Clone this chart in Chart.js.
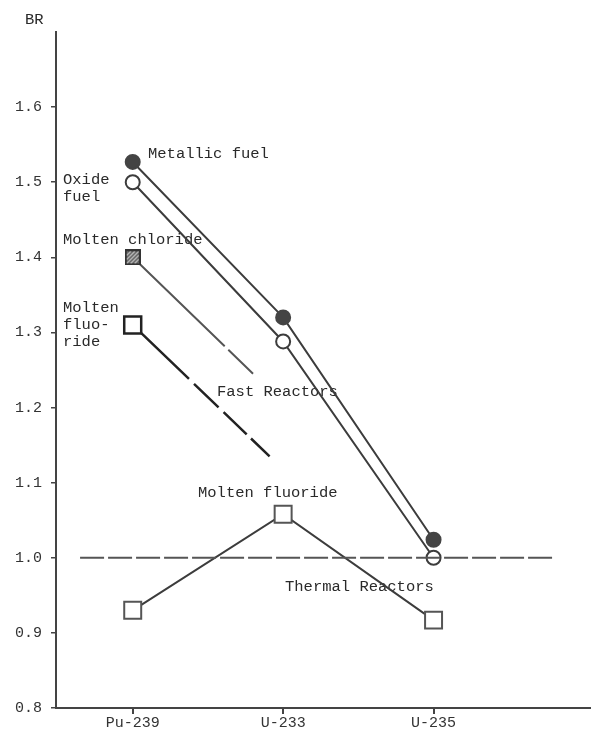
<!DOCTYPE html>
<html>
<head>
<meta charset="utf-8">
<script src="https://cdn.jsdelivr.net/npm/chart.js@4"></script>
<style>
  html, body { margin: 0; padding: 0; background: #fff; }
  #wrap { width: 592px; height: 732px; }
</style>
</head>
<body>
<div id="wrap"><canvas id="brChart" width="592" height="732"></canvas></div>
<script>
// --- Data ---
const categories = ['Pu-239', 'U-233', 'U-235'];
const yTicks = [0.8, 0.9, 1.0, 1.1, 1.2, 1.3, 1.4, 1.5, 1.6];
const metallicFuel = [1.527, 1.320, 1.024];
const oxideFuel = [1.500, 1.288, 1.000];
const thermalFluoride = [0.930, 1.058, 0.917];
// fast molten salt lines start at Pu-239 and trail off as dashes (x, y)
const moltenChloride = [[1, 1.400], [1.80, 1.245]];
const fastFluoride = [[1, 1.310], [1.91, 1.135]];
const breakEven = [[0.65, 1.0], [3.79, 1.0]];

const ink = '#3c3c3c';
const FONT = '"Liberation Mono", "DejaVu Sans Mono", monospace';

function toPoints(values) {
    return values.map((v, i) => ({ x: i + 1, y: v }));
}
function toXY(pairs) {
    return pairs.map(p => ({ x: p[0], y: p[1] }));
}

// hatched square marker for molten chloride
function hatchedSquare(size) {
    const c = document.createElement('canvas');
    c.width = size; c.height = size;
    const g = c.getContext('2d');
    g.fillStyle = '#555';
    g.fillRect(0, 0, size, size);
    g.strokeStyle = '#ddd';
    g.lineWidth = 1.2;
    for (let k = -size; k < size * 2; k += 4) {
        g.beginPath();
        g.moveTo(k, size);
        g.lineTo(k + size, 0);
        g.stroke();
    }
    g.strokeStyle = '#333';
    g.lineWidth = 2;
    g.strokeRect(1, 1, size - 2, size - 2);
    return c;
}

// --- Annotation text ---
const notes = [
    ['BR', 25, 20],
    ['Metallic fuel', 148, 154],
    ['Oxide', 63, 180],
    ['fuel', 63, 197],
    ['Molten chloride', 63, 240],
    ['Molten', 63, 308],
    ['fluo-', 63, 325],
    ['ride', 63, 342],
    ['Fast Reactors', 217, 392],
    ['Molten fluoride', 198, 493],
    ['Thermal Reactors', 285, 587]
];

const notePlugin = {
    id: 'notes',
    beforeDatasetsDraw(chart) {
        const ctx = chart.ctx;
        ctx.save();
        ctx.font = '15.5px ' + FONT;
        ctx.fillStyle = '#2a2a2a';
        ctx.textAlign = 'left';
        ctx.textBaseline = 'middle';
        notes.forEach(n => ctx.fillText(n[0], n[1], n[2]));
        ctx.restore();
    }
};

const ctx = document.getElementById('brChart').getContext('2d');
new Chart(ctx, {
    type: 'line',
    data: {
        datasets: [
            {
                label: 'Break-even',
                data: toXY(breakEven),
                borderColor: '#555',
                borderWidth: 2,
                borderDash: [24, 4],
                pointRadius: 0
            },
            {
                label: 'Metallic fuel',
                data: toPoints(metallicFuel),
                borderColor: ink,
                borderWidth: 2,
                pointStyle: 'circle',
                pointRadius: 7,
                pointBackgroundColor: '#444',
                pointBorderColor: '#444'
            },
            {
                label: 'Oxide fuel',
                data: toPoints(oxideFuel),
                borderColor: ink,
                borderWidth: 2,
                pointStyle: 'circle',
                pointRadius: 7,
                pointBorderWidth: 2,
                pointBackgroundColor: '#fff',
                pointBorderColor: ink
            },
            {
                label: 'Molten chloride',
                data: toXY(moltenChloride),
                borderColor: '#555',
                borderWidth: 2,
                borderDash: [128, 5, 36, 300],
                pointStyle: [hatchedSquare(16), false],
                pointRadius: [8, 0]
            },
            {
                label: 'Molten fluoride (fast)',
                data: toXY(fastFluoride),
                borderColor: '#222',
                borderWidth: 2.5,
                borderDash: [78, 7, 34, 7, 32, 6, 31, 300],
                pointStyle: 'rect',
                pointRadius: [12, 0],
                pointBorderWidth: 2.5,
                pointBackgroundColor: '#fff',
                pointBorderColor: '#222'
            },
            {
                label: 'Molten fluoride (thermal)',
                data: toPoints(thermalFluoride),
                borderColor: ink,
                borderWidth: 2,
                pointStyle: 'rect',
                pointRadius: 12,
                pointBorderWidth: 2,
                pointBackgroundColor: '#fff',
                pointBorderColor: '#555'
            }
        ]
    },
    options: {
        responsive: false,
        animation: false,
        events: [],
        layout: { autoPadding: false, padding: { top: 32, right: 2, left: 0, bottom: 0 } },
        plugins: {
            legend: { display: false },
            tooltip: { enabled: false }
        },
        scales: {
            x: {
                type: 'linear',
                min: 0.49,
                max: 4.04,
                afterBuildTicks: scale => {
                    scale.ticks = categories.map((c, i) => ({ value: i + 1 }));
                },
                afterFit: scale => {
                    scale.height = 24;
                    scale.paddingLeft = 0;
                    scale.paddingRight = 0;
                },
                border: { display: true, color: '#444', width: 2 },
                grid: { drawOnChartArea: false, drawTicks: true, tickLength: 6, color: '#444', lineWidth: 2 },
                ticks: {
                    color: '#333',
                    font: { family: FONT, size: 15 },
                    padding: 0,
                    maxRotation: 0,
                    callback: v => categories[Math.round(v) - 1]
                }
            },
            y: {
                type: 'linear',
                min: 0.8,
                max: 1.7,
                afterBuildTicks: scale => {
                    scale.ticks = yTicks.map(v => ({ value: v }));
                },
                afterFit: scale => { scale.width = 56; },
                border: { display: true, color: '#444', width: 2 },
                grid: { drawOnChartArea: false, drawTicks: true, tickLength: 5, color: '#444', lineWidth: 1.5 },
                ticks: {
                    color: '#333',
                    font: { family: FONT, size: 15 },
                    padding: 9,
                    callback: v => v.toFixed(1)
                }
            }
        }
    },
    plugins: [notePlugin]
});
</script>
</body>
</html>
